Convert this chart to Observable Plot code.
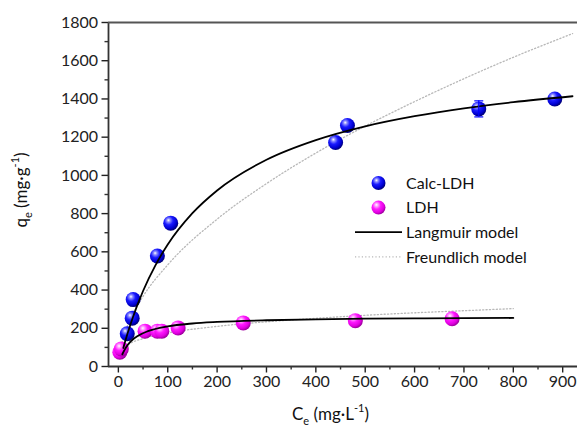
<!DOCTYPE html>
<html><head><meta charset="utf-8">
<script src="https://cdn.jsdelivr.net/npm/d3@7"></script>
<script src="https://cdn.jsdelivr.net/npm/@observablehq/plot@0.6"></script>
<style>
body{margin:0;background:#fff;}
#chart{width:577px;height:427px;overflow:hidden;}
</style>
</head><body><div id="chart"></div>
<script>
// Experimental points
const calcC = [18, 28, 30, 79, 106, 440, 464, 730, 884];
const calcQ = [171, 253, 350, 578, 750, 1172, 1261, 1348, 1400];
const calcErr = [0, 0, 0, 0, 0, 0, 0, 42, 0];
const ldhC = [3, 6, 54, 79, 88, 121, 253, 480, 676];
const ldhQ = [75, 92, 185, 185, 185, 202, 228, 240, 250];
// Model curves
const calcLangC = [10, 20, 30, 50, 75, 100, 150, 200, 300, 400, 500, 600, 700, 800, 920];
const calcLangQ = [97, 184, 262, 395, 529, 638, 802, 921, 1082, 1185, 1257, 1310, 1351, 1383, 1414];
const calcFreC = [5, 20, 50, 100, 200, 300, 400, 500, 600, 700, 800, 920];
const calcFreQ = [107, 225, 367, 532, 771, 957, 1117, 1258, 1386, 1506, 1618, 1742];
const ldhLangC = [8, 15, 25, 40, 60, 100, 150, 200, 300, 400, 500, 600, 700, 800];
const ldhLangQ = [64, 98, 131, 161, 185, 210, 225, 233, 242, 247, 250, 252, 253, 254];
const ldhFreC = [5, 20, 50, 100, 200, 300, 400, 500, 600, 700, 800];
const ldhFreQ = [80, 115, 146, 175, 210, 234, 252, 268, 281, 292, 303];
// Axis ticks
const xTicks = [0, 100, 200, 300, 400, 500, 600, 700, 800, 900];
const xMinor = [50, 150, 250, 350, 450, 550, 650, 750, 850];
const yTicks = [0, 200, 400, 600, 800, 1000, 1200, 1400, 1600, 1800];
const yMinor = [100, 300, 500, 700, 900, 1100, 1300, 1500, 1700];
const legendLabels = ["Calc-LDH", "LDH", "Langmuir model", "Freundlich model"];

const zip = (xs, ys, extra) => xs.map((x, i) => ({x, y: ys[i], ...(extra ? extra(i) : {})}));
const calcPts = zip(calcC, calcQ, i => ({err: calcErr[i]}));
const ldhPts = zip(ldhC, ldhQ);
const errPts = calcPts.filter(d => d.err > 0);

const FONT = "Lato, 'Open Sans', sans-serif";
const AX = "#333";

const capSymbol = {draw(ctx, size) { ctx.moveTo(-4.5, 0); ctx.lineTo(4.5, 0); }};

const defs = () => {
  const d = d3.create("svg:defs");
  const mk = (id, stops) => {
    const g = d.append("radialGradient").attr("id", id)
      .attr("cx", "38%").attr("cy", "35%").attr("r", "65%").attr("fx", "35%").attr("fy", "30%");
    stops.forEach(([o, c]) => g.append("stop").attr("offset", o).attr("stop-color", c));
  };
  mk("gBlue", [["0%", "#ffffff"], ["18%", "#8c8cff"], ["45%", "#1a1aff"], ["80%", "#0000d0"], ["100%", "#00007a"]]);
  mk("gMag", [["0%", "#ffffff"], ["18%", "#ffa0ff"], ["45%", "#ff1aff"], ["80%", "#e000e0"], ["100%", "#a000a0"]]);
  return d.node();
};

const plot = Plot.plot({
  width: 577, height: 427,
  marginLeft: 108, marginRight: 0, marginTop: 22, marginBottom: 61,
  style: {fontFamily: FONT, fontSize: "16px", color: AX, background: "#fff"},
  x: {domain: [-20, 930]},
  y: {domain: [0, 1800]},
  marks: [
    defs,
    Plot.axisX({ticks: xTicks, tickFormat: d => String(d), tickSize: 6.5, tickPadding: 3, label: null, fontSize: 16, color: "#222", strokeWidth: 1.4}),
    Plot.axisX({ticks: xMinor, tickSize: 3.5, text: null, label: null, strokeWidth: 1.4}),
    Plot.axisY({ticks: yTicks, tickFormat: d => String(d), tickSize: 6.5, tickPadding: 4, label: null, fontSize: 16, color: "#222", strokeWidth: 1.4}),
    Plot.axisY({ticks: yMinor, tickSize: 3.5, text: null, label: null, strokeWidth: 1.4}),
    Plot.line(zip(calcFreC, calcFreQ), {x: "x", y: "y", curve: "monotone-x", stroke: "#b8b8b8", strokeWidth: 1.3, strokeDasharray: "1.2,2.2"}),
    Plot.line(zip(ldhFreC, ldhFreQ), {x: "x", y: "y", curve: "monotone-x", stroke: "#b8b8b8", strokeWidth: 1.3, strokeDasharray: "1.2,2.2"}),
    Plot.dot(ldhPts, {x: "x", y: "y", r: 7.5, fill: "url(#gMag)", stroke: null}),
    Plot.dot(calcPts, {x: "x", y: "y", r: 7.5, fill: "url(#gBlue)", stroke: null}),
    Plot.line(zip(calcLangC, calcLangQ), {x: "x", y: "y", curve: "monotone-x", stroke: "#000", strokeWidth: 1.8}),
    Plot.line(zip(ldhLangC, ldhLangQ), {x: "x", y: "y", curve: "monotone-x", stroke: "#000", strokeWidth: 1.8}),
    Plot.ruleX(errPts, {x: "x", y1: d => d.y - d.err, y2: d => d.y + d.err, stroke: "#0000ff", strokeWidth: 1.2}),
    Plot.dot(errPts, {x: "x", y: d => d.y - d.err, symbol: capSymbol, stroke: "#0000ff", strokeWidth: 1.2, r: 4}),
    Plot.dot(errPts, {x: "x", y: d => d.y + d.err, symbol: capSymbol, stroke: "#0000ff", strokeWidth: 1.2, r: 4}),
    Plot.ruleX([-20], {stroke: AX, strokeWidth: 1.8}),
    Plot.ruleY([0], {stroke: AX, strokeWidth: 1.8}),
    Plot.ruleY([1800], {stroke: "#555", strokeWidth: 1.8})
  ]
});

const svg = d3.select(plot);
// Legend
const lg = svg.append("g").attr("font-family", FONT).attr("font-size", 16).attr("fill", "#111").attr("text-anchor", "start");
const lx = 355, ltx = 406, ly0 = 183, ldy = 24.6;
lg.append("circle").attr("cx", 378.5).attr("cy", ly0).attr("r", 7).attr("fill", "url(#gBlue)");
lg.append("circle").attr("cx", 378.5).attr("cy", ly0 + ldy).attr("r", 7).attr("fill", "url(#gMag)");
lg.append("line").attr("x1", lx).attr("x2", 402).attr("y1", ly0 + 2 * ldy).attr("y2", ly0 + 2 * ldy).attr("stroke", "#000").attr("stroke-width", 1.8);
lg.append("line").attr("x1", lx).attr("x2", 402).attr("y1", ly0 + 3 * ldy).attr("y2", ly0 + 3 * ldy).attr("stroke", "#b8b8b8").attr("stroke-width", 1.3).attr("stroke-dasharray", "1.2,2.2");
legendLabels.forEach((t, i) => {
  lg.append("text").attr("x", ltx).attr("y", ly0 + i * ldy).attr("dy", "0.36em").attr("text-anchor", "start").text(t);
});
// Axis titles
const xt = svg.append("text").attr("x", 292).attr("y", 420).attr("text-anchor", "start").attr("font-family", FONT).attr("font-size", 17).attr("fill", "#111");
xt.append("tspan").text("C");
xt.append("tspan").attr("font-size", 11).attr("dy", 5).text("e");
xt.append("tspan").attr("dy", -5).text(" (mg·L");
xt.append("tspan").attr("font-size", 11).attr("dy", -8).text("-1");
xt.append("tspan").attr("dy", 8).text(")");
const yt = svg.append("text").attr("transform", "translate(27,190) rotate(-90)").attr("text-anchor", "middle")
  .attr("font-family", FONT).attr("font-size", 17).attr("fill", "#111");
yt.append("tspan").text("q");
yt.append("tspan").attr("font-size", 11).attr("dy", 5).text("e");
yt.append("tspan").attr("dy", -5).text(" (mg·g");
yt.append("tspan").attr("font-size", 11).attr("dy", -8).text("-1");
yt.append("tspan").attr("dy", 8).text(")");

document.getElementById("chart").appendChild(plot);
</script>
</body></html>
